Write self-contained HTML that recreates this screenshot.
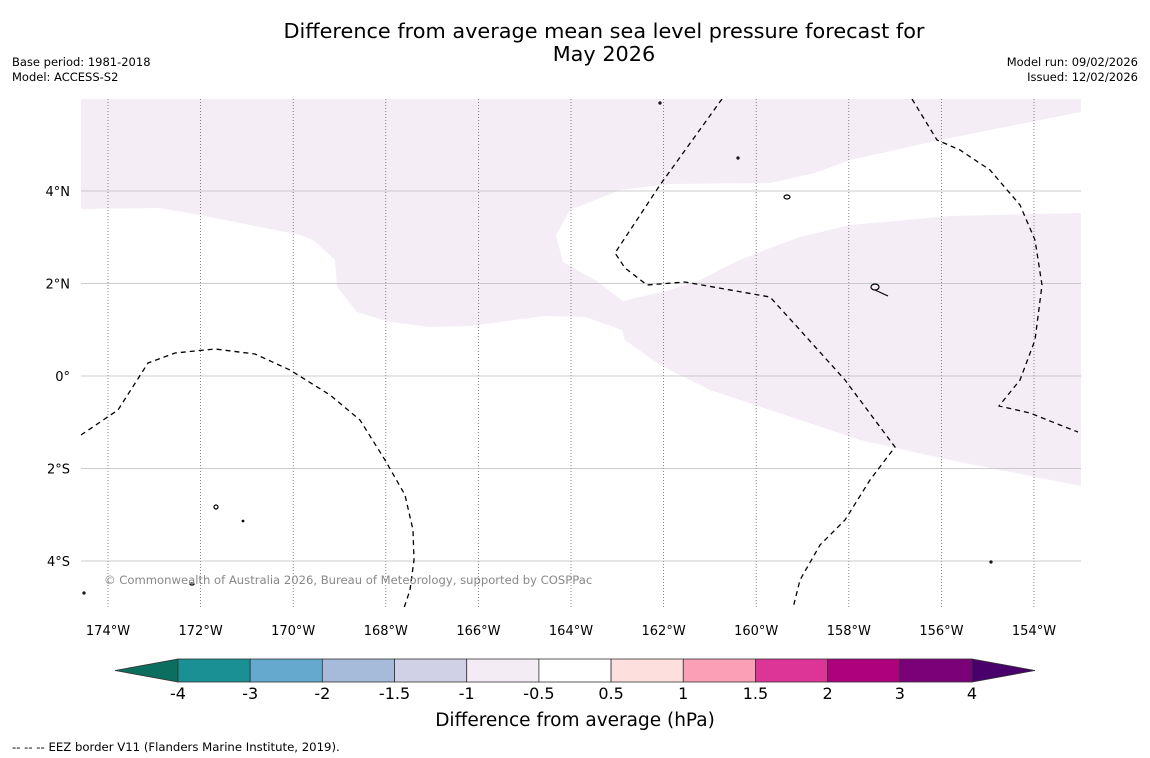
<!DOCTYPE html>
<html><head><meta charset="utf-8"><style>
body{margin:0;background:#fff;font-family:"DejaVu Sans","Liberation Sans",sans-serif}
#c{position:relative;width:1150px;height:758px;overflow:hidden;background:#fff}
</style></head><body>
<div id="c">
<svg id="s" width="1150" height="758" xmlns="http://www.w3.org/2000/svg" font-family="DejaVu Sans, Liberation Sans, sans-serif">
<text x="604" y="38" font-size="20.8" text-anchor="middle">Difference from average mean sea level pressure forecast for</text>
<text x="604" y="61" font-size="20.8" text-anchor="middle">May 2026</text>
<text x="12" y="66" font-size="11.5">Base period: 1981-2018</text>
<text x="12" y="81" font-size="11.5">Model: ACCESS-S2</text>
<text x="1138" y="66" font-size="11.5" text-anchor="end">Model run: 09/02/2026</text>
<text x="1138" y="81" font-size="11.5" text-anchor="end">Issued: 12/02/2026</text>
<g id="map">
<clipPath id="cp"><rect x="81" y="99" width="1000" height="509"/></clipPath>
<g clip-path="url(#cp)">
<path fill="#f4edf5" d="M81,209 L160,208 200,215 300,235 313,240 335,260 337,287 357,312 390,322 430,327 470,326 545,316 585,317 622,330 625,340 660,365 710,390 800,420 860,440 950,460 1081,486 1081,213 950,216 850,225 800,237 770,248 735,262 700,280 670,290 623,301 595,280 563,262 556,235 570,210 620,190 670,184 770,183 815,173 850,160 940,140 1000,128 1081,112 1081,99 81,99Z"/>
<g id="grid"></g>
<g fill="none" stroke="#000" stroke-width="1.3" stroke-dasharray="5,4">
<polyline points="81,435 118,410 148,363 175,353 215,349 255,354 290,370 330,395 360,420 385,460 405,495 413,530 414,560 410,590 404,608"/>
<polyline points="722,99 660,185 615,253 625,268 647,285 685,282 770,297 800,330 845,380 895,447 870,480 845,520 820,545 800,580 793,608"/>
<polyline points="912,99 937,140 960,150 990,170 1020,205 1035,240 1042,285 1035,340 1020,380 999,406 1030,413 1060,425 1078,432"/>
</g>
<g fill="none" stroke="#000" stroke-width="1.2">
<ellipse cx="787" cy="197" rx="3" ry="2"/><ellipse cx="875" cy="287" rx="4" ry="3"/><path d="M875,290 L888,296"/>
<ellipse cx="216" cy="507" rx="2" ry="2"/><ellipse cx="192" cy="584" rx="2" ry="1"/><circle cx="660" cy="103" r="1"/><circle cx="738" cy="158" r="1"/><circle cx="243" cy="521" r="0.8"/><circle cx="991" cy="562" r="1"/><circle cx="84" cy="593" r="1"/>
</g>
</g>
<g id="labels"></g>
</g>
<text x="104" y="584" font-size="11.6" fill="#888">© Commonwealth of Australia 2026, Bureau of Meteorology, supported by COSPPac</text>
<g id="cbar"></g>
<text x="575" y="726" font-size="18.5" text-anchor="middle">Difference from average (hPa)</text>
<text x="12" y="751" font-size="11.7">--  --  -- EEZ border V11 (Flanders Marine Institute, 2019).</text>
</svg>
</div>
<script>
const lonTicks=[-174,-172,-170,-168,-166,-164,-162,-160,-158,-156,-154];
const latTicks=[4,2,0,-2,-4];
const levels=[-4,-3,-2,-1.5,-1,-0.5,0.5,1,1.5,2,3,4];
const levelColors=["#1a8f94","#65a9cf","#a6bbd9","#d0d1e6","#f4ecf5","#ffffff","#fde0dd","#fa9fb5","#dd3497","#ae017e","#7a0177"];
const NS="http://www.w3.org/2000/svg";
const xLon=l=>108+(l+174)*46.3;
const yLat=l=>376-l*46.25;
function mk(t,a,p){const e=document.createElementNS(NS,t);for(const k in a)e.setAttribute(k,a[k]);p.appendChild(e);return e;}
const grid=document.getElementById('grid'),labels=document.getElementById('labels');
lonTicks.forEach(l=>{const x=xLon(l);
 const ln=mk('line',{x1:x,x2:x,y1:99,y2:608,stroke:'#666','stroke-width':0.8,'stroke-dasharray':'1,2'},grid);
 
 
 const t=mk('text',{x:x,y:635,'font-size':13,'text-anchor':'middle'},labels);t.textContent=Math.abs(l)+'°W';
 
 });
latTicks.forEach(l=>{const y=yLat(l);
 const ln=mk('line',{x1:81,x2:1081,y1:y,y2:y,stroke:'#bbb','stroke-width':0.8},grid);
 
 
 const t=mk('text',{x:70,y:y+5,'font-size':13,'text-anchor':'end'},labels);t.textContent=l===0?'0°':Math.abs(l)+'°'+(l>0?'N':'S');
 
 });
const cb=document.getElementById('cbar');const x0=178,x1=972,yT=659,yB=682,w=(x1-x0)/levelColors.length;
const lt=mk('polygon',{points:`${x0},${yT} 115,670.5 ${x0},${yB}`,fill:'#0b6e5e',stroke:'#333','stroke-width':0.8},cb);


const rt=mk('polygon',{points:`${x1},${yT} 1035,670.5 ${x1},${yB}`,fill:'#49006a',stroke:'#333','stroke-width':0.8},cb);


levelColors.forEach((c,i)=>{const r=mk('rect',{x:x0+i*w,y:yT,width:w,height:yB-yT,fill:c,stroke:'#333','stroke-width':0.8},cb);
 
 });
levels.forEach((v,i)=>{const t=mk('text',{x:x0+i*w,y:699,'font-size':16,'text-anchor':'middle'},cb);t.textContent=v;
 
 });
</script>
</body></html>
